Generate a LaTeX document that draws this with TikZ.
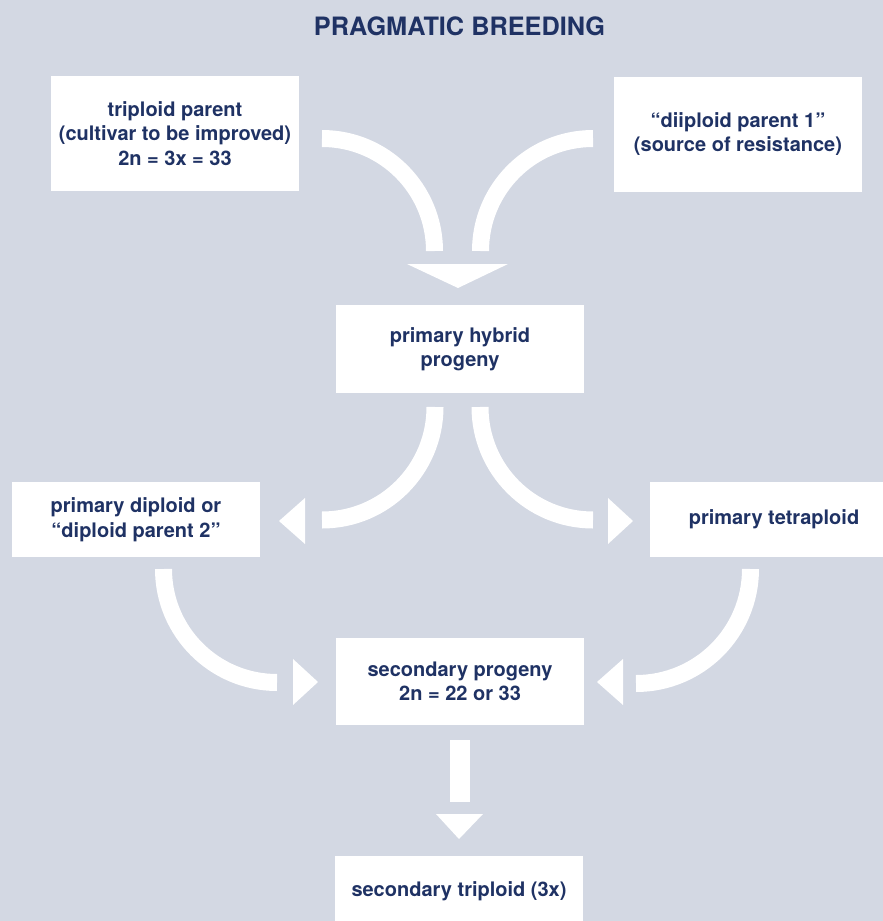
\documentclass[tikz,border=0pt]{standalone}
\usepackage{fontspec}
\setmainfont{TeX Gyre Heros}
\definecolor{paneblue}{RGB}{211,216,227}
\definecolor{inkblue}{RGB}{31,50,100}
\tikzset{
  stage/.style={fill=white, text=inkblue, font=\bfseries\fontsize{20}{24.5}\selectfont,
    align=center, minimum width=248pt, inner sep=0pt},
  band/.style={draw=white, line width=17pt},
  tip/.style={fill=white}
}
\begin{document}
\begin{tikzpicture}[x=1pt,y=-1pt]
\fill[paneblue] (0,0) rectangle (883,921);
\clip (0,0) rectangle (883,921);

\node[text=inkblue, font=\bfseries\fontsize{25.3}{30}\selectfont, inner sep=0pt] (title) at (459.5,26.5) {PRAGMATIC BREEDING};

\node[stage, minimum height=115pt] (tri) at (175,133.5) {triploid parent\\(cultivar to be improved)\\2n = 3x = 33};
\node[stage, minimum height=115pt] (dip) at (738,134) {“diiploid parent 1”\\(source of resistance)};
\node[stage, minimum height=88pt] (hyb) at (460,349) {primary hybrid\\progeny};
\node[stage, minimum height=75pt] (pdip) at (136,519.5) {primary diploid or\\“diploid parent 2”};
\node[stage, minimum height=75pt] (ptet) at (774,519.5) {primary tetraploid};
\node[stage, minimum height=87pt] (sprog) at (460,681.5) {secondary progeny\\2n = 22 or 33};
\node[stage, minimum height=70pt] (strip) at (459,891) {secondary triploid (3x)};

\coordinate (a1) at (322,138.5);
\coordinate (a2) at (593,138.5);
\coordinate (a3) at (435,407);
\coordinate (a4) at (480,407);
\coordinate (a5) at (163.5,569);
\coordinate (a6) at (750.5,569);
\coordinate (a7) at (460,740);

\draw[band] (a1) arc[start angle=90, end angle=0, radius=112.5pt];
\draw[band] (a2) arc[start angle=90, end angle=180, radius=112.5pt];
\fill[tip] (407,264) -- (508,264) -- (458,288) -- cycle;

\draw[band] (a3) arc[start angle=0, end angle=-90, radius=113pt];
\fill[tip] (305,498) -- (305,544) -- (279,521) -- cycle;
\draw[band] (a4) arc[start angle=180, end angle=270, radius=113pt];
\fill[tip] (608,498) -- (608,544) -- (633,521) -- cycle;

\draw[band] (a5) arc[start angle=180, end angle=270, radius=113.5pt];
\fill[tip] (293,659) -- (293,705) -- (318,682) -- cycle;
\draw[band] (a6) arc[start angle=0, end angle=-90, radius=114.5pt];
\fill[tip] (623,659) -- (623,705) -- (597,682) -- cycle;

\draw[white, line width=20pt] (a7) -- (460,802);
\fill[tip] (436,814) -- (483,814) -- (459,839) -- cycle;
\end{tikzpicture}
\end{document}
